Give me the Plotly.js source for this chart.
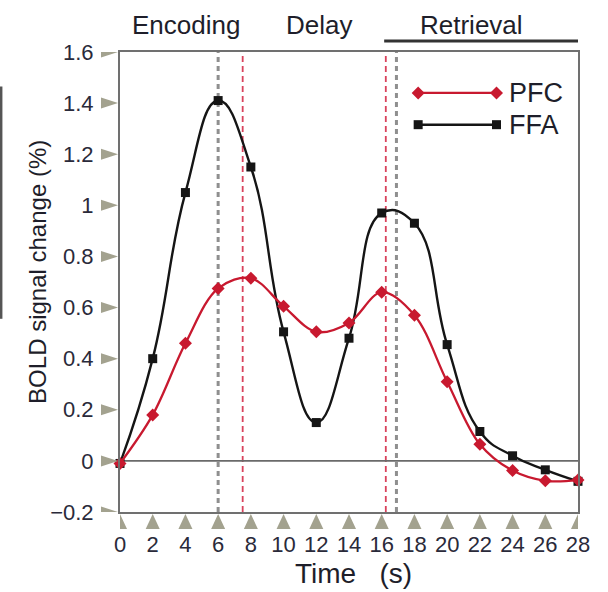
<!DOCTYPE html>
<html>
<head>
<meta charset="utf-8">
<script src="https://cdn.plot.ly/plotly-3.0.1.min.js"></script>
<style>html,body{margin:0;padding:0;background:#fff}#chart{width:608px;height:592px}</style>
</head>
<body>
<div id="chart"></div>
<script>
// ---- data ----
var time = [0, 2, 4, 6, 8, 10, 12, 14, 16, 18, 20, 22, 24, 26, 28];
var ffa = [-0.01, 0.40, 1.05, 1.41, 1.15, 0.505, 0.15, 0.48, 0.97, 0.93, 0.455, 0.115, 0.02, -0.035, -0.08];
var pfc = [-0.01, 0.18, 0.46, 0.675, 0.715, 0.605, 0.505, 0.54, 0.66, 0.57, 0.31, 0.065, -0.038, -0.078, -0.075];
var seriesNames = ['PFC', 'FFA'];
var xTicks = [0, 2, 4, 6, 8, 10, 12, 14, 16, 18, 20, 22, 24, 26, 28];
var yTicks = [-0.2, 0, 0.2, 0.4, 0.6, 0.8, 1, 1.2, 1.4, 1.6];
var yTickText = ['\u22120.2', '0', '0.2', '0.4', '0.6', '0.8', '1', '1.2', '1.4', '1.6'];
var ffaPeakTimes = [6, 16.9];
var pfcPeakTimes = [7.5, 16.25];
var phases = ['Encoding', 'Delay', 'Retrieval'];
var phaseCenters = [4.05, 12.15, 21.5];
var xTitle = 'Time \u00a0\u00a0(s)';
var yTitle = 'BOLD signal change (%)';

var RED = '#c8192f', BLACK = '#151515', TRI = '#a3a28f';
var FONT = 'Liberation Sans, Arial, Helvetica, sans-serif';

var traces = [];
traces.push({x: time, y: ffa, name: seriesNames[1], type: 'scatter', mode: 'lines+markers',
  line: {color: BLACK, width: 2.4, shape: 'spline', smoothing: 1.3},
  marker: {symbol: 'square', size: 9, color: BLACK}, cliponaxis: false, showlegend: false});
traces.push({x: time, y: pfc, name: seriesNames[0], type: 'scatter', mode: 'lines+markers',
  line: {color: RED, width: 2.3, shape: 'spline', smoothing: 1.0},
  marker: {symbol: 'diamond', size: 10, color: RED}, cliponaxis: false, showlegend: false});

// custom legend glyphs on overlay axis
traces.push({x: [0.651, 0.822], y: [0.911, 0.911], xaxis: 'x2', yaxis: 'y2', mode: 'lines+markers', type: 'scatter',
  line: {color: RED, width: 2.3}, marker: {symbol: 'diamond', size: 10, color: RED}, hoverinfo: 'skip', showlegend: false});
traces.push({x: [0.651, 0.822], y: [0.842, 0.842], xaxis: 'x2', yaxis: 'y2', mode: 'lines+markers', type: 'scatter',
  line: {color: BLACK, width: 2.4}, marker: {symbol: 'square', size: 9, color: BLACK}, hoverinfo: 'skip', showlegend: false});

var shapes = [];
ffaPeakTimes.forEach(function(t){
  shapes.push({type: 'line', xref: 'x', yref: 'paper', x0: t, x1: t, y0: 0, y1: 1,
    line: {color: '#8f8f8f', width: 3, dash: '5px,4px'}, layer: 'below'});
});
pfcPeakTimes.forEach(function(t){
  shapes.push({type: 'line', xref: 'x', yref: 'paper', x0: t, x1: t, y0: 0, y1: 1,
    line: {color: '#d9425c', width: 1.8, dash: '6px,4px'}, layer: 'below'});
});
// zero line
shapes.push({type: 'line', xref: 'paper', yref: 'y', x0: 0, x1: 1, y0: 0, y1: 0,
  line: {color: '#6a6a6a', width: 1.6}, layer: 'below'});
// triangle tick marks
yTicks.forEach(function(v){
  shapes.push({type: 'path', xref: 'paper', xsizemode: 'pixel', xanchor: 0, yref: 'y', ysizemode: 'pixel', yanchor: v,
    path: 'M -19,-5.5 L -2,0 L -19,5.5 Z', fillcolor: TRI, line: {width: 0}});
});
xTicks.forEach(function(v){
  shapes.push({type: 'path', xref: 'x', xsizemode: 'pixel', xanchor: v, yref: 'paper', ysizemode: 'pixel', yanchor: 0,
    path: 'M -7,-17 L 0,-2 L 7,-17 Z', fillcolor: TRI, line: {width: 0}});
});
// retrieval underline
shapes.push({type: 'line', xref: 'x', yref: 'paper', x0: 16.15, x1: 28.05, y0: 1.024, y1: 1.024,
  line: {color: '#333333', width: 3}});
// left edge artifact bar
shapes.push({type: 'line', xref: 'paper', yref: 'paper', x0: -0.26, x1: -0.26, y0: 0.42, y1: 0.925,
  line: {color: '#555555', width: 3}});

var annotations = [];
phases.forEach(function(p, i){
  annotations.push({text: p, x: phaseCenters[i], xref: 'x', y: 1.058, yref: 'paper',
    showarrow: false, xanchor: 'center', yanchor: 'middle', font: {family: FONT, size: 26, color: '#1e1e2a'}});
});
annotations.push({text: seriesNames[0], x: 0.845, xref: 'paper', y: 0.911, yref: 'paper', showarrow: false,
  xanchor: 'left', yanchor: 'middle', font: {family: FONT, size: 27, color: '#1e1e2a'}});
annotations.push({text: seriesNames[1], x: 0.845, xref: 'paper', y: 0.842, yref: 'paper', showarrow: false,
  xanchor: 'left', yanchor: 'middle', font: {family: FONT, size: 27, color: '#1e1e2a'}});
// axis titles
annotations.push({text: xTitle, x: 0.51, xref: 'paper', y: -0.133, yref: 'paper', showarrow: false,
  xanchor: 'center', yanchor: 'middle', font: {family: FONT, size: 28, color: '#1e1e2a'}});
annotations.push({text: yTitle, x: -0.179, xref: 'paper', y: 0.522, yref: 'paper', showarrow: false, textangle: -90,
  xanchor: 'center', yanchor: 'middle', font: {family: FONT, size: 24, color: '#1e1e2a'}});

var layout = {
  width: 608, height: 592,
  margin: {l: 120, r: 30, t: 52, b: 80},
  paper_bgcolor: '#ffffff', plot_bgcolor: '#ffffff',
  showlegend: false,
  font: {family: FONT, color: '#222'},
  xaxis: {range: [0, 28], tickvals: xTicks, ticks: 'outside', ticklen: 12, tickcolor: 'rgba(0,0,0,0)',
    showgrid: false, zeroline: false, showline: true, mirror: true, linecolor: '#707070', linewidth: 2,
    tickfont: {family: FONT, size: 22, color: '#2a2a3a'}},
  yaxis: {range: [-0.2, 1.6], tickvals: yTicks, ticktext: yTickText, ticks: 'outside', ticklen: 20, tickcolor: 'rgba(0,0,0,0)',
    showgrid: false, zeroline: false, showline: true, mirror: true, linecolor: '#707070', linewidth: 2,
    tickfont: {family: FONT, size: 22, color: '#2a2a3a'}},
  xaxis2: {range: [0, 1], overlaying: 'x', visible: false, fixedrange: true},
  yaxis2: {range: [0, 1], overlaying: 'y', visible: false, fixedrange: true},
  shapes: shapes,
  annotations: annotations
};

Plotly.newPlot('chart', traces, layout, {displayModeBar: false, staticPlot: true});
</script>
</body>
</html>
